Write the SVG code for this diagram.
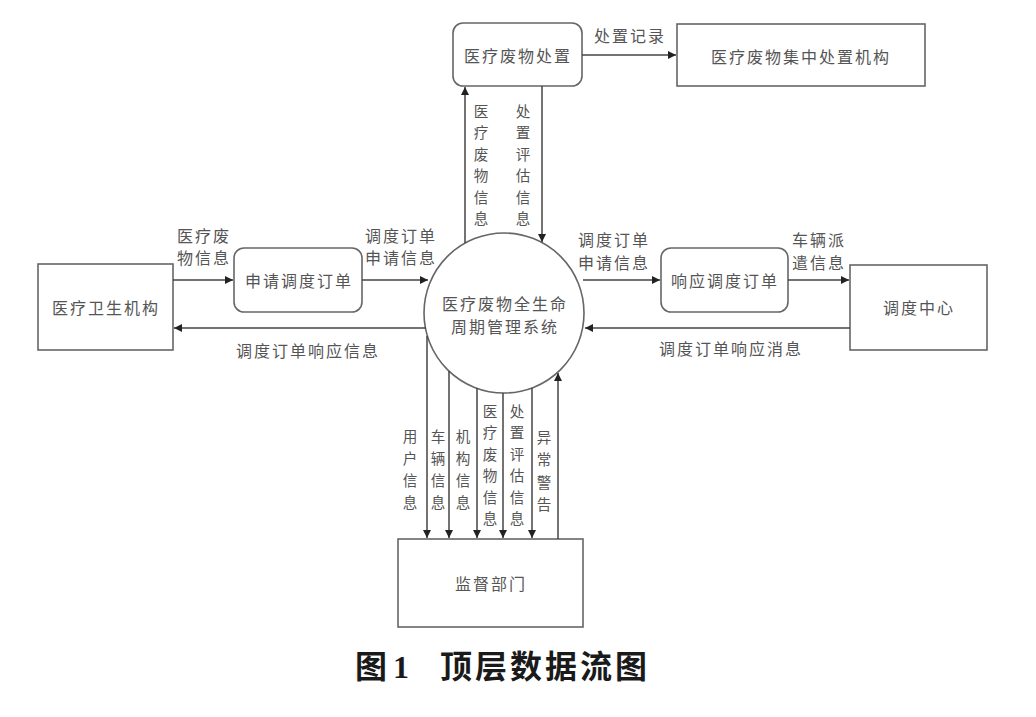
<svg xmlns="http://www.w3.org/2000/svg" width="1036" height="717" viewBox="0 0 1036 717">
<style>
.box{fill:#fff;stroke:#666;stroke-width:1.6}
.t{font-family:"Noto Sans CJK SC","Noto Sans",sans-serif;font-size:16px;fill:#555;letter-spacing:2px}
.c{text-anchor:middle;dominant-baseline:central}
.vc{font-family:"Noto Sans CJK SC","Noto Sans",sans-serif;font-size:14.6px;fill:#555;text-anchor:middle;dominant-baseline:central}
.ln{fill:none;stroke:#444;stroke-width:1.5;marker-end:url(#ah)}
.cap{font-family:"Noto Sans CJK SC","Liberation Serif",serif;font-size:32px;font-weight:bold;fill:#1a1a1a}
</style>
<defs>
<marker id="ah" viewBox="0 0 10 10" refX="10" refY="5" markerWidth="8" markerHeight="8" markerUnits="userSpaceOnUse" orient="auto">
<path d="M0,0 L10,5 L0,10 z" fill="#222"/>
</marker>
</defs>
<rect width="1036" height="717" fill="#fff"/>

<g id="n-disposal"><rect class="box" x="453" y="23" width="129" height="63" rx="10"/><text class="t c" x="518" y="55">医疗废物处置</text></g>
<g id="n-central"><rect class="box" x="677" y="24" width="248" height="62"/><text class="t c" x="801" y="56">医疗废物集中处置机构</text></g>
<g id="n-hospital"><rect class="box" x="38" y="264" width="135" height="86"/><text class="t c" x="106" y="307">医疗卫生机构</text></g>
<g id="n-apply"><rect class="box" x="234" y="248" width="128" height="64" rx="10"/><text class="t c" x="299" y="280">申请调度订单</text></g>
<g id="n-system"><circle class="box" cx="504" cy="313" r="80"/><text class="t c" x="505" y="303">医疗废物全生命</text><text class="t c" x="505" y="326">周期管理系统</text></g>
<g id="n-respond"><rect class="box" x="661" y="248" width="127" height="64" rx="10"/><text class="t c" x="725" y="280">响应调度订单</text></g>
<g id="n-dispatch"><rect class="box" x="850" y="265" width="137" height="85"/><text class="t c" x="919" y="307">调度中心</text></g>
<g id="n-supervise"><rect class="box" x="398" y="539" width="185" height="88"/><text class="t c" x="491" y="583">监督部门</text></g>

<g id="connectors">
<path class="ln" d="M582,55 H676"/>
<path class="ln" d="M465,243 V87"/>
<path class="ln" d="M542,86 V242"/>
<path class="ln" d="M173,280 H233"/>
<path class="ln" d="M362,280 H428"/>
<path class="ln" d="M426,328 H174"/>
<path class="ln" d="M583,280 H660"/>
<path class="ln" d="M788,280 H849"/>
<path class="ln" d="M850,328 H585"/>
<path class="ln" d="M427,336 V538"/>
<path class="ln" d="M449,371 V538"/>
<path class="ln" d="M477,388 V538"/>
<path class="ln" d="M503,393 V538"/>
<path class="ln" d="M532,388 V538"/>
<path class="ln" d="M558,539 V373"/>
</g>

<g id="labels">
<text class="t c" x="630" y="35">处置记录</text>
<text class="t c" x="204" y="235">医疗废</text>
<text class="t c" x="204" y="257">物信息</text>
<text class="t c" x="401" y="235">调度订单</text>
<text class="t c" x="401" y="257">申请信息</text>
<text class="t c" x="308" y="350">调度订单响应信息</text>
<text class="t c" x="614" y="239">调度订单</text>
<text class="t c" x="614" y="262">申请信息</text>
<text class="t c" x="819" y="239">车辆派</text>
<text class="t c" x="819" y="262">遣信息</text>
<text class="t c" x="731" y="348">调度订单响应消息</text>
<g id="lbl-top-waste">
<text class="vc" x="481" y="110">医</text><text class="vc" x="481" y="131.5">疗</text><text class="vc" x="481" y="153">废</text><text class="vc" x="481" y="174.5">物</text><text class="vc" x="481" y="196">信</text><text class="vc" x="481" y="217.5">息</text>
</g>
<g id="lbl-top-eval">
<text class="vc" x="523" y="110">处</text><text class="vc" x="523" y="131.5">置</text><text class="vc" x="523" y="153">评</text><text class="vc" x="523" y="174.5">估</text><text class="vc" x="523" y="196">信</text><text class="vc" x="523" y="217.5">息</text>
</g>
<g id="lbl-user">
<text class="vc" x="410" y="435">用</text><text class="vc" x="410" y="457">户</text><text class="vc" x="410" y="479">信</text><text class="vc" x="410" y="501">息</text>
</g>
<g id="lbl-vehicle">
<text class="vc" x="438" y="435">车</text><text class="vc" x="438" y="457">辆</text><text class="vc" x="438" y="479">信</text><text class="vc" x="438" y="501">息</text>
</g>
<g id="lbl-org">
<text class="vc" x="463" y="435">机</text><text class="vc" x="463" y="457">构</text><text class="vc" x="463" y="479">信</text><text class="vc" x="463" y="501">息</text>
</g>
<g id="lbl-bot-waste">
<text class="vc" x="490" y="410">医</text><text class="vc" x="490" y="431.5">疗</text><text class="vc" x="490" y="453">废</text><text class="vc" x="490" y="474.5">物</text><text class="vc" x="490" y="496">信</text><text class="vc" x="490" y="517.5">息</text>
</g>
<g id="lbl-bot-eval">
<text class="vc" x="517" y="410">处</text><text class="vc" x="517" y="431.5">置</text><text class="vc" x="517" y="453">评</text><text class="vc" x="517" y="474.5">估</text><text class="vc" x="517" y="496">信</text><text class="vc" x="517" y="517.5">息</text>
</g>
<g id="lbl-alarm">
<text class="vc" x="544" y="436">异</text><text class="vc" x="544" y="458.5">常</text><text class="vc" x="544" y="481">警</text><text class="vc" x="544" y="503.5">告</text>
</g>
</g>

<text class="cap" x="355" y="678">图<tspan font-family="Liberation Serif" dx="6">1</tspan><tspan x="440" letter-spacing="3">顶层数据流图</tspan></text>
</svg>
